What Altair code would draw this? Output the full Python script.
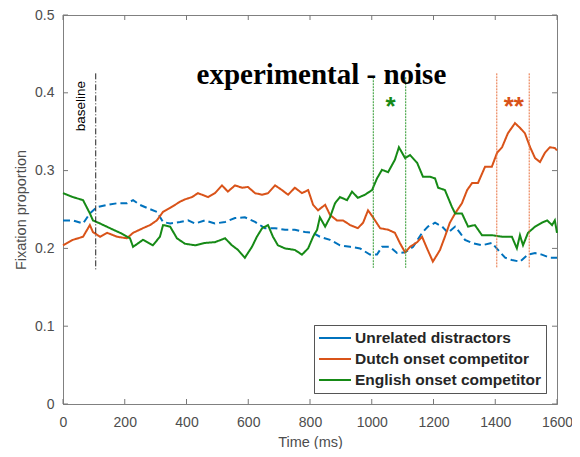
import altair as alt
import pandas as pd

# ---------------- data ----------------
series_names = ["Unrelated distractors", "Dutch onset competitor", "English onset competitor"]
series_colors = ["#0072BD", "#D95319", "#168A16"]

unrel_ms = [0, 32, 65, 87, 110, 143, 175, 207, 227, 249, 272, 304, 324, 347, 379, 405, 428, 460, 492, 525,
            557, 589, 622, 654, 687, 719, 751, 784, 810, 832, 865, 897, 930, 962, 994, 1017, 1033, 1059,
            1082, 1108, 1134, 1163, 1182, 1205, 1228, 1247, 1270, 1286, 1302, 1325, 1357, 1389, 1409,
            1432, 1454, 1480, 1506, 1529, 1551, 1577, 1600]
unrel_val = [0.236, 0.236, 0.232, 0.245, 0.253, 0.256, 0.258, 0.258, 0.262, 0.256, 0.252, 0.247, 0.234,
             0.232, 0.234, 0.236, 0.232, 0.236, 0.232, 0.234, 0.239, 0.240, 0.234, 0.226, 0.226, 0.224,
             0.224, 0.221, 0.220, 0.215, 0.211, 0.204, 0.202, 0.200, 0.192, 0.192, 0.202, 0.202, 0.194,
             0.195, 0.202, 0.220, 0.228, 0.233, 0.228, 0.220, 0.228, 0.220, 0.211, 0.207, 0.204, 0.207,
             0.198, 0.188, 0.185, 0.183, 0.192, 0.194, 0.192, 0.188, 0.188]

dutch_ms = [0, 32, 65, 87, 97, 120, 143, 175, 207, 227, 259, 282, 304, 324, 347, 379, 395, 418, 437, 470,
            492, 515, 534, 557, 580, 599, 622, 645, 664, 687, 709, 729, 751, 774, 794, 800, 810, 826, 849,
            865, 887, 907, 930, 955, 972, 988, 1004, 1027, 1053, 1075, 1091, 1108, 1124, 1147, 1163, 1179,
            1198, 1215, 1221, 1237, 1253, 1270, 1292, 1309, 1325, 1344, 1367, 1389, 1406, 1422, 1441,
            1464, 1480, 1496, 1513, 1529, 1545, 1561, 1577, 1593, 1600]
dutch_val = [0.204, 0.211, 0.215, 0.230, 0.221, 0.215, 0.220, 0.215, 0.213, 0.220, 0.226, 0.230, 0.236,
             0.247, 0.252, 0.260, 0.263, 0.266, 0.271, 0.266, 0.271, 0.281, 0.273, 0.281, 0.278, 0.279,
             0.271, 0.269, 0.271, 0.281, 0.275, 0.269, 0.278, 0.271, 0.275, 0.268, 0.256, 0.249, 0.256,
             0.243, 0.236, 0.236, 0.230, 0.226, 0.233, 0.249, 0.240, 0.226, 0.224, 0.220, 0.207, 0.195,
             0.202, 0.208, 0.215, 0.200, 0.183, 0.194, 0.198, 0.215, 0.233, 0.245, 0.258, 0.275, 0.284,
             0.284, 0.305, 0.305, 0.323, 0.330, 0.348, 0.361, 0.355, 0.348, 0.330, 0.316, 0.311, 0.323,
             0.330, 0.329, 0.326]

english_ms = [0, 32, 65, 87, 97, 120, 152, 185, 217, 227, 259, 291, 314, 324, 347, 369, 395, 428, 460, 492,
              525, 547, 567, 589, 612, 628, 645, 664, 680, 696, 719, 751, 774, 794, 810, 823, 832, 849, 865,
              881, 897, 920, 936, 955, 978, 1001, 1017, 1033, 1053, 1075, 1088, 1108, 1124, 1147, 1166,
              1189, 1205, 1215, 1237, 1260, 1270, 1292, 1312, 1334, 1357, 1389, 1422, 1454, 1470, 1480,
              1490, 1506, 1529, 1551, 1568, 1584, 1593, 1600]
english_val = [0.271, 0.266, 0.262, 0.245, 0.236, 0.232, 0.226, 0.220, 0.213, 0.202, 0.211, 0.204, 0.215,
               0.230, 0.228, 0.213, 0.206, 0.204, 0.207, 0.208, 0.213, 0.204, 0.198, 0.188, 0.202, 0.215,
               0.226, 0.230, 0.215, 0.204, 0.200, 0.198, 0.192, 0.200, 0.215, 0.224, 0.240, 0.228, 0.240,
               0.258, 0.266, 0.262, 0.273, 0.265, 0.269, 0.275, 0.290, 0.301, 0.298, 0.314, 0.330, 0.316,
               0.320, 0.310, 0.292, 0.292, 0.290, 0.278, 0.275, 0.253, 0.245, 0.245, 0.228, 0.230, 0.217,
               0.217, 0.215, 0.215, 0.200, 0.217, 0.204, 0.220, 0.228, 0.233, 0.236, 0.230, 0.236, 0.220]

x_ticks = [0, 200, 400, 600, 800, 1000, 1200, 1400, 1600]
y_ticks = [0, 0.1, 0.2, 0.3, 0.4, 0.5]

# vertical marker lines
vline_ms = [106, 1005, 1110, 1405, 1510]
vline_top = [0.425, 0.42, 0.42, 0.425, 0.425]
vline_bottom = [0.172, 0.175, 0.175, 0.175, 0.175]
vline_kind = ["baseline", "english", "english", "dutch", "dutch"]

# text annotations
title_text = "experimental - noise"
title_ms, title_val = 837, 0.423
baseline_text = "baseline"
baseline_ms, baseline_val = 58, 0.383
star_text = ["*", "**"]
star_ms = [1061, 1460]
star_val = [0.371, 0.371]
star_kind = ["english", "dutch"]

# ---------------- build ----------------
W, H = 494, 389
rows = []
for name, xs, ys in zip(series_names, [unrel_ms, dutch_ms, english_ms], [unrel_val, dutch_val, english_val]):
    for t, p in zip(xs, ys):
        rows.append({"series": name, "t": t, "p": p})
df = pd.DataFrame(rows)

xscale = alt.Scale(domain=[0, 1600], nice=False, zero=False)
yscale = alt.Scale(domain=[0, 0.5], nice=False)

legend_cfg = dict(
    title=None, orient="none", legendX=251, legendY=310,
    symbolType="stroke", symbolSize=1024, symbolStrokeWidth=2, clipHeight=18,
    labelFont="Liberation Sans", labelFontWeight="bold", labelFontSize=15.5, labelLimit=400,
    labelColor="#262626", fillColor="white", strokeColor="#555555",
    padding=4, rowPadding=3, labelOffset=3, symbolOffset=0,
)

lines = alt.Chart(df).mark_line(strokeWidth=2).encode(
    x=alt.X("t:Q", scale=xscale,
            axis=alt.Axis(values=x_ticks, format="d", title="Time (ms)", tickSize=0, labelFlush=False,
                          labelPadding=11, titlePadding=6)),
    y=alt.Y("p:Q", scale=yscale,
            axis=alt.Axis(values=y_ticks, format="~g", title="Fixation proportion", tickSize=0,
                          labelFlush=False, labelPadding=9, titlePadding=6)),
    color=alt.Color("series:N", scale=alt.Scale(domain=series_names, range=series_colors),
                    legend=alt.Legend(**legend_cfg)),
    strokeDash=alt.StrokeDash("series:N",
                              scale=alt.Scale(domain=series_names, range=[[7, 4], [1, 0], [1, 0]]),
                              legend=alt.Legend(**legend_cfg)),
)

vdf = pd.DataFrame({"t": vline_ms, "top": vline_top, "bottom": vline_bottom, "kind": vline_kind})
base_rule = alt.Chart(vdf[vdf.kind == "baseline"]).mark_rule(
    color="#222222", strokeWidth=1, strokeDash=[6, 2, 1, 2]
).encode(x=alt.X("t:Q", scale=xscale), y=alt.Y("top:Q", scale=yscale), y2="bottom:Q")
eng_rule = alt.Chart(vdf[vdf.kind == "english"]).mark_rule(
    color="#2E9A2E", strokeWidth=1, strokeDash=[2, 1]
).encode(x=alt.X("t:Q", scale=xscale), y=alt.Y("top:Q", scale=yscale), y2="bottom:Q")
dut_rule = alt.Chart(vdf[vdf.kind == "dutch"]).mark_rule(
    color="#E8703E", strokeWidth=1, strokeDash=[2, 1]
).encode(x=alt.X("t:Q", scale=xscale), y=alt.Y("top:Q", scale=yscale), y2="bottom:Q")

tdf = pd.DataFrame({"t": [title_ms], "p": [title_val], "txt": [title_text]})
title_mark = alt.Chart(tdf).mark_text(
    font="Liberation Serif", fontWeight="bold", fontSize=29, color="black", baseline="middle"
).encode(x=alt.X("t:Q", scale=xscale), y=alt.Y("p:Q", scale=yscale), text="txt:N")

bdf = pd.DataFrame({"t": [baseline_ms], "p": [baseline_val], "txt": [baseline_text]})
baseline_mark = alt.Chart(bdf).mark_text(
    font="Liberation Sans", fontSize=13.5, color="black", angle=270, baseline="middle", align="center"
).encode(x=alt.X("t:Q", scale=xscale), y=alt.Y("p:Q", scale=yscale), text="txt:N")

sdf = pd.DataFrame({"t": star_ms, "p": star_val, "txt": star_text, "kind": star_kind})
stars = alt.Chart(sdf).mark_text(
    font="Liberation Sans", fontSize=26, fontWeight="bold", baseline="alphabetic", align="center"
).encode(
    x=alt.X("t:Q", scale=xscale), y=alt.Y("p:Q", scale=yscale), text="txt:N",
    color=alt.Color("kind:N", scale=alt.Scale(domain=["english", "dutch"], range=["#168A16", "#D95319"]),
                    legend=None),
)

# inward ticks
xt = pd.DataFrame({"v": x_ticks})
yt = pd.DataFrame({"v": y_ticks})
tick_col = "#777777"
xt_bottom = alt.Chart(xt).mark_rule(color=tick_col, strokeWidth=1).encode(
    x=alt.X("v:Q", scale=xscale), y=alt.value(H), y2=alt.value(H - 5))
xt_top = alt.Chart(xt).mark_rule(color=tick_col, strokeWidth=1).encode(
    x=alt.X("v:Q", scale=xscale), y=alt.value(0), y2=alt.value(5))
yt_left = alt.Chart(yt).mark_rule(color=tick_col, strokeWidth=1).encode(
    y=alt.Y("v:Q", scale=yscale), x=alt.value(0), x2=alt.value(5))
yt_right = alt.Chart(yt).mark_rule(color=tick_col, strokeWidth=1).encode(
    y=alt.Y("v:Q", scale=yscale), x=alt.value(W), x2=alt.value(W - 5))

chart = alt.layer(
    lines, base_rule, eng_rule, dut_rule, title_mark, baseline_mark, stars,
    xt_bottom, xt_top, yt_left, yt_right
).resolve_scale(color="independent").properties(
    width=W, height=H,
    autosize=alt.AutoSizeParams(type="none"),
    padding={"left": 55, "top": 7, "right": 15, "bottom": 45},
).configure_view(
    stroke="#808080", strokeWidth=1
).configure_axis(
    grid=False, domainColor="#808080", domainWidth=1,
    labelFont="Liberation Sans", labelFontSize=14, labelColor="#4d4d4d",
    titleFont="Liberation Sans", titleFontSize=14.5, titleFontWeight="normal", titleColor="#4d4d4d",
)

chart.save("out.html", embed_options={"renderer": "svg", "actions": False})
